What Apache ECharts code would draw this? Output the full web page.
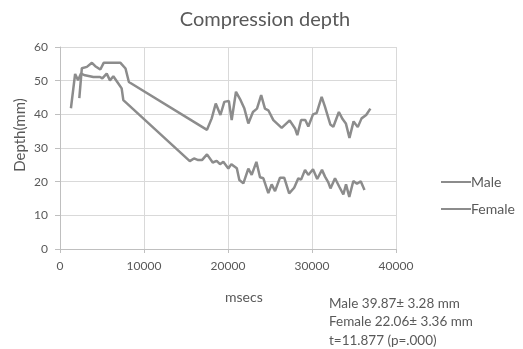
<!DOCTYPE html>
<html><head><meta charset="utf-8">
<script src="https://cdn.jsdelivr.net/npm/echarts@6/dist/echarts.min.js"></script>
<style>html,body{margin:0;padding:0;background:#fff}#c{width:523px;height:349px}</style>
</head><body><div id="c"></div>
<script>
var titleText = "Compression depth";
var yAxisName = "Depth(mm)";
var xAxisName = "msecs";
var statsLines = ["Male 39.87\u00b1 3.28 mm", "Female 22.06\u00b1 3.36 mm", "t=11.877 (p=.000)"];
var seriesNames = ["Male", "Female"];
var maleTimes = [2300,2600,3200,3800,4200,4800,5200,7200,7800,8200,17500,18060,18540,19100,19560,20100,20440,20950,21500,21950,22420,22970,23450,23950,24400,24800,25400,26390,27340,27980,28250,28700,29200,29560,30120,30560,31150,31550,32180,32540,33200,33640,34030,34460,34950,35450,35900,36450,36950];
var maleDepth = [44.8,53.7,54.1,55.3,54.3,53.3,55.3,55.3,53.6,49.6,35.4,38.8,43.2,39.8,43.7,44.0,38.3,46.7,44.2,41.7,37.3,40.7,41.7,45.7,41.7,41.2,38.3,36.0,38.2,35.8,33.8,38.3,38.3,36.4,40.0,40.4,45.2,42.2,37.0,36.3,40.7,38.6,37.3,33.0,37.9,36.2,38.8,39.8,41.7];
var femaleTimes = [1300,1800,2150,2500,2980,3970,4760,5040,5560,5950,6350,6820,7340,7540,15450,15950,16450,16900,17500,18180,18650,19050,19440,20040,20400,21050,21350,21830,22420,22820,23380,23810,24210,24800,25200,25600,26190,26690,27280,27880,28370,28700,29170,29560,30120,30620,31190,31550,31940,32200,32740,33250,33730,34050,34440,34920,35350,35800,36250];
var femaleDepth = [41.8,52.0,50.1,52.1,51.6,51.1,51.1,50.7,52.1,50.1,51.3,49.6,47.7,44.2,26.1,26.9,26.4,26.4,28.1,25.7,26.2,25.2,25.9,23.9,25.2,24.0,20.5,19.5,23.9,22.0,25.9,21.3,21.0,16.6,19.2,17.2,21.2,21.2,16.5,18.2,21.0,20.6,23.5,22.0,23.7,20.8,23.5,21.5,19.8,18.0,21.0,18.5,16.2,19.2,15.5,20.2,19.4,20.1,17.5];
var xTicks = {min: 0, max: 40000, interval: 10000};
var yTicks = {min: 0, max: 60, interval: 10};

function pairs(xs, ys){ return xs.map(function(x,i){ return [x, ys[i]]; }); }

var FONT = "Lato, 'Open Sans', sans-serif";
var TXT = "#595959";
var LINE = "#8c8c8c";
var chart = echarts.init(document.getElementById('c'), null, {renderer:'canvas'});
chart.setOption({
  animation: false,
  backgroundColor: '#fff',
  textStyle: {fontFamily: FONT},
  title: {text: titleText, left: 260, top: 5, textAlign: 'center',
    textStyle: {fontFamily: FONT, fontSize: 20, fontWeight: 'normal', color: TXT}},
  grid: {left: 60, right: 127, top: 47, bottom: 100, containLabel: false},
  legend: {
    orient: 'vertical', left: 436, top: 170, itemGap: 13,
    itemWidth: 30, itemHeight: 15, icon: 'path://M0,6 L30,6 L30,8 L0,8 Z',
    textStyle: {fontFamily: FONT, fontSize: 14, color: TXT, padding: [0,0,0,-5]},
    data: seriesNames
  },
  xAxis: {
    type: 'value', min: xTicks.min, max: xTicks.max, interval: xTicks.interval,
    axisLine: {show: true, lineStyle: {color: '#bfbfbf'}},
    axisTick: {show: true, length: 4, lineStyle: {color: '#bfbfbf'}},
    axisLabel: {color: TXT, fontSize: 12, fontFamily: FONT, margin: 11,
      formatter: function(v){ return String(v); }},
    splitLine: {show: true, lineStyle: {color: '#d9d9d9'}}
  },
  yAxis: {
    type: 'value', min: yTicks.min, max: yTicks.max, interval: yTicks.interval,
    axisLine: {show: true, lineStyle: {color: '#bfbfbf'}},
    axisTick: {show: true, length: 5, lineStyle: {color: '#bfbfbf'}},
    axisLabel: {color: TXT, fontSize: 12, fontFamily: FONT, margin: 12},
    splitLine: {show: true, lineStyle: {color: '#d9d9d9'}}
  },
  series: [
    {name: seriesNames[0], type: 'line', data: pairs(maleTimes, maleDepth), symbol: 'none',
     lineStyle: {color: LINE, width: 2.5}, itemStyle: {color: LINE}},
    {name: seriesNames[1], type: 'line', data: pairs(femaleTimes, femaleDepth), symbol: 'none',
     lineStyle: {color: LINE, width: 2.5}, itemStyle: {color: LINE}}
  ],
  graphic: [
    {type: 'text', x: 20, y: 135, rotation: Math.PI/2,
     style: {text: yAxisName, fill: TXT, font: "15px " + FONT, textAlign: 'center', textVerticalAlign: 'middle'}},
    {type: 'text', left: 225, top: 290, style: {text: xAxisName, fill: TXT, font: "14px " + FONT}},
    {type: 'text', left: 329, top: 294, style: {text: statsLines.join("\n"), fill: TXT, font: "13.5px " + FONT, lineHeight: 18.5}}
  ]
});
</script></body></html>
